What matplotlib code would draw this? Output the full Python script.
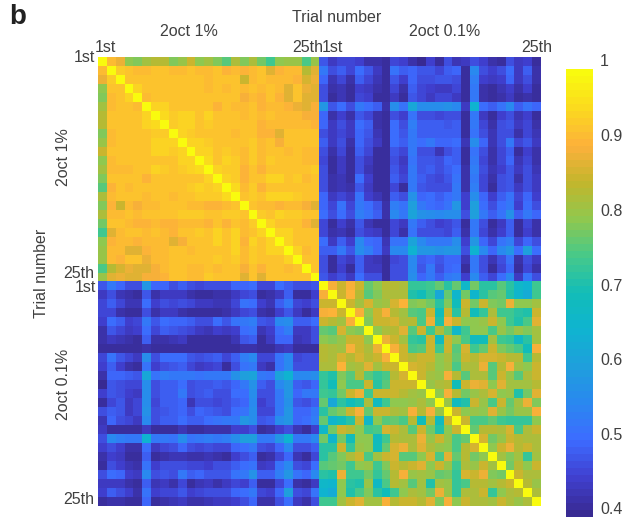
import numpy as np
import matplotlib
matplotlib.use("Agg")
import matplotlib.pyplot as plt
from matplotlib.colors import LinearSegmentedColormap

plt.rcParams['font.family'] = ['Liberation Sans', 'DejaVu Sans']

# Upper triangle of the 2oct 1% block (percent), row i has entries for j>i
tri_a = [
[91,88,80,79,82,84,84,79,81,85,80,82,79,76,83,79,83,78,74,80,81,81,75,81],
[93,92,91,91,92,92,91,91,92,91,91,92,90,91,90,91,92,87,90,91,91,84,87],
[92,92,92,92,92,92,92,92,92,91,92,92,92,85,91,92,91,91,91,90,86,88],
[94,92,92,92,92,92,92,92,91,92,91,92,91,92,91,92,91,87,92,88,87],
[91,92,92,92,92,92,92,92,92,92,92,89,91,90,92,90,87,92,87,87],
[94,94,92,92,92,92,92,90,92,91,91,92,90,91,91,90,88,87,89],
[95,93,94,94,92,94,92,92,92,91,92,91,92,91,91,91,89,89],
[93,94,94,92,93,92,92,92,92,92,90,91,91,91,91,91,90],
[94,93,92,92,92,92,91,92,92,90,90,87,92,92,92,92],
[94,94,93,92,92,92,92,93,91,92,89,92,92,92,92],
[94,94,92,93,92,91,93,91,92,92,91,92,91,91],
[95,92,94,93,91,93,91,93,92,92,92,91,91],
[94,93,93,90,92,90,92,92,92,92,92,93],
[94,93,90,92,92,94,94,92,93,91,92],
[95,91,93,90,92,92,92,92,92,92],
[92,93,92,94,94,94,93,92,92],
[92,91,91,90,91,91,89,87],
[93,92,94,93,93,92,92],
[94,92,92,92,90,87],
[94,94,92,92,92],
[94,92,92,92],
[94,91,92],
[92,92],
[92],
]

# Upper triangle of the 2oct 0.1% block (percent)
tri_d = [
[89,85,89,85,77,80,84,84,83,73,73,74,77,72,77,67,78,72,72,76,72,67,65,74],
[85,90,84,76,79,83,83,83,71,70,73,62,77,66,78,66,72,76,77,71,66,63,74],
[85,82,86,81,82,86,90,79,80,78,72,79,70,85,78,85,79,78,88,80,80,82],
[89,80,85,89,84,82,76,75,85,70,85,72,84,70,73,83,74,74,72,71,85],
[79,85,85,86,83,84,75,88,71,89,85,80,80,81,85,80,74,71,75,87],
[80,83,84,87,76,85,74,83,77,67,74,80,80,75,81,78,81,79,82],
[88,85,82,73,72,85,69,85,80,75,69,70,82,74,73,68,72,82],
[89,85,75,76,85,74,85,76,86,74,77,85,79,77,75,70,89],
[85,84,85,85,80,83,77,85,84,86,86,85,84,84,74,84],
[86,85,84,80,82,75,83,83,88,76,84,89,82,80,85],
[85,82,81,89,84,76,83,83,76,85,81,76,83,85],
[81,83,84,70,85,88,87,80,87,82,82,82,84],
[80,89,84,78,81,83,86,80,81,71,78,87],
[81,69,71,85,81,75,85,77,82,88,79],
[85,80,81,80,87,81,78,81,81,89],
[85,75,75,77,74,73,73,73,80],
[77,84,84,83,86,75,83,85],
[86,78,81,85,84,83,83],
[80,85,88,84,85,83],
[82,79,82,73,82],
[78,84,80,85],
[85,83,83],
[84,81],
[83],
]

# Cross block: rows 2oct 1%, columns 2oct 0.1% (percent)
cross = [
[48,44,46,46,45,42,42,41,46,45,42,40,45,41,47,43,44,47,45,42,41,47,44,45,41],
[53,47,49,46,51,48,44,41,52,49,50,48,48,46,49,50,41,55,47,45,47,51,44,49,42],
[50,43,46,42,49,46,43,41,48,45,50,47,47,48,48,47,41,54,45,44,45,50,44,47,42],
[47,42,43,41,45,44,42,41,46,42,49,46,45,44,44,46,41,53,42,41,43,45,42,45,41],
[47,41,43,41,46,45,41,41,44,41,48,46,44,46,46,44,41,53,42,41,42,44,41,42,41],
[58,48,51,47,53,51,49,42,56,52,62,56,56,56,57,55,44,65,51,49,52,55,49,52,50],
[50,42,45,42,48,46,42,41,47,45,52,47,47,46,47,47,41,53,44,41,45,47,43,45,41],
[50,44,47,44,51,49,42,41,51,47,54,49,49,49,48,49,41,53,46,42,47,48,44,46,42],
[47,44,46,44,50,48,43,41,51,48,53,49,49,49,49,49,41,52,47,43,47,47,42,46,43],
[49,44,47,42,50,47,44,41,51,49,53,51,53,50,50,51,43,56,50,43,47,53,46,48,44],
[47,42,46,41,49,46,41,41,48,46,53,47,47,43,47,49,41,52,47,42,46,49,41,45,42],
[46,41,44,41,47,44,41,41,47,44,52,48,48,47,50,49,41,53,46,42,46,50,43,46,42],
[47,41,44,41,47,43,41,41,48,45,53,48,49,47,49,51,42,54,47,43,45,48,44,47,43],
[47,42,43,41,51,45,41,41,49,46,53,49,47,46,48,52,42,53,46,42,47,48,42,47,44],
[47,42,43,42,48,44,41,41,46,41,53,48,47,47,47,53,42,54,46,41,47,48,44,47,44],
[50,44,46,44,52,45,43,41,49,47,57,50,51,49,51,53,45,56,50,45,49,52,46,50,45],
[50,46,52,46,53,51,48,42,54,52,60,53,51,50,52,58,45,60,51,47,51,53,45,51,47],
[51,47,51,47,54,52,49,42,55,53,61,57,56,55,56,56,47,60,53,49,52,57,49,53,50],
[46,41,45,42,48,43,41,41,46,44,53,49,47,45,46,48,41,53,47,41,44,49,41,46,42],
[46,42,43,41,47,45,44,41,46,42,52,47,47,47,46,49,42,53,46,42,45,49,41,45,42],
[51,44,49,45,55,51,50,43,52,52,61,55,53,53,53,56,45,58,50,46,52,54,46,50,47],
[49,49,53,48,56,54,50,44,55,55,65,58,58,57,58,58,47,65,55,50,55,58,51,60,51],
[47,41,46,44,49,44,43,41,46,47,55,49,50,48,50,50,43,53,47,43,47,52,42,47,44],
[47,41,45,41,49,44,44,41,47,47,55,48,53,47,50,51,41,53,47,41,46,50,41,46,42],
[48,45,47,44,51,47,47,41,47,47,56,50,53,49,53,54,45,55,49,46,51,55,44,52,47],
]

cbar_ticks = [1, 0.9, 0.8, 0.7, 0.6, 0.5, 0.4]
cbar_labels = ['1', '0.9', '0.8', '0.7', '0.6', '0.5', '0.4']

def sym(tri):
    n = len(tri) + 1
    m = np.eye(n) * 100.0
    for i, row in enumerate(tri):
        for k, v in enumerate(row):
            m[i, i + 1 + k] = v
            m[i + 1 + k, i] = v
    return m

A = sym(tri_a)
D = sym(tri_d)
B = np.array(cross, dtype=float)
M = np.block([[A, B], [B.T, D]]) / 100.0

parula = LinearSegmentedColormap.from_list('parula_like', [
    '#382a92', '#4040d0', '#3d6bff', '#2a88f0', '#1f9fdc', '#0fb4d0', '#12bdb8',
    '#46c98a', '#8fc84f', '#c2b62c', '#fdb03b', '#fbd91f', '#f9fb0e'], N=64)

W, H = 628, 520
fig = plt.figure(figsize=(W / 100, H / 100), dpi=100)

def box(x0, y0, x1, y1):
    return [x0 / W, 1 - y1 / H, (x1 - x0) / W, (y1 - y0) / H]

def label(x, y, s, rot=0, **kw):
    kw.setdefault('fontsize', 11.5)
    kw.setdefault('color', '#404040')
    fig.text(x / W, 1 - y / H, s, rotation=rot, ha='center', va='center', **kw)

ax = fig.add_axes(box(98, 57.5, 541, 506))
im = ax.imshow(M, cmap=parula, vmin=0.4, vmax=1, aspect='auto', interpolation='nearest')
ax.axis('off')

cax = fig.add_axes(box(566, 68.5, 593, 516.5))
cb = fig.colorbar(im, cax=cax)
cb.outline.set_visible(False)
cb.set_ticks([])
for v, s in zip(cbar_ticks, cbar_labels):
    y = 516.5 - (v - 0.4) / 0.6 * 448 - 6.5
    fig.text(600 / W, 1 - y / H, s, ha='left', va='center', fontsize=11.5, color='#404040')

label(18, 17, 'b', fontsize=20, fontweight='bold', color='#222222')
label(337, 18, 'Trial number')
label(189, 31, '2oct 1%')
label(445, 31, '2oct 0.1%')
label(105, 47, '1st')
label(308, 47, '25th')
label(332, 47, '1st')
label(537, 47, '25th')
label(84, 58, '1st')
label(79, 273, '25th')
label(85, 287, '1st')
label(79, 499, '25th')
label(63, 157, '2oct 1%', rot=90)
label(63, 384, '2oct 0.1%', rot=90)
label(42, 273, 'Trial number', rot=90)

fig.savefig('out.png', dpi=100)
